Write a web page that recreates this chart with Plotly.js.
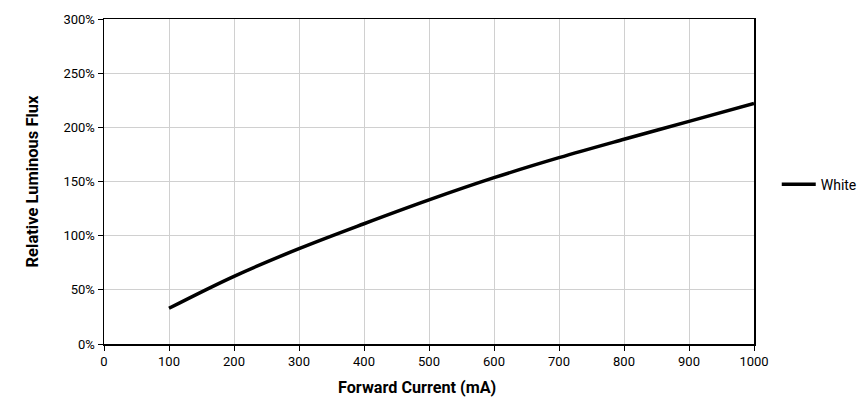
<!DOCTYPE html>
<html><head><meta charset="utf-8">
<script src="https://cdn.plot.ly/plotly-3.0.1.min.js"></script>
<style>body{margin:0}#c{width:866px;height:418px}</style>
</head><body><div id="c"></div>
<script>
const current = [100, 200, 300, 400, 500, 600, 700, 800, 900, 1000];
const fluxWhite = [0.33, 0.625, 0.88, 1.11, 1.33, 1.535, 1.72, 1.89, 2.055, 2.22];
const xTicks = [0,100,200,300,400,500,600,700,800,900,1000];
const yTicks = [0,0.5,1,1.5,2,2.5,3];
const xTitle = 'Forward Current (mA)';
const yTitle = 'Relative Luminous Flux';

const trace = {x: current, y: fluxWhite, mode: 'lines', name: 'White', line: {color: '#000', width: 3.5, shape: 'spline'}};
const layout = {
  width: 866, height: 418,
  margin: {l: 104, r: 112, t: 19, b: 74, autoexpand: false},
  font: {family: 'Roboto, sans-serif', size: 13, color: '#000'},
  paper_bgcolor: '#fff', plot_bgcolor: '#fff',
  showlegend: true,
  legend: {x: 1.035, y: 0.49, xanchor: 'left', yanchor: 'middle', font: {size: 14}, itemwidth: 34, bgcolor: 'rgba(0,0,0,0)'},
  xaxis: {range: [0, 1000], tickvals: xTicks, ticks: 'outside', ticklen: 5, tickcolor: '#000',
    showline: true, linecolor: '#000', linewidth: 1.5, mirror: true, showgrid: true, gridcolor: '#d0d0d0', gridwidth: 1,
    zeroline: false, fixedrange: true, automargin: false},
  yaxis: {range: [0, 3], tickvals: yTicks, tickformat: '.0%', ticks: 'outside', ticklen: 5, tickcolor: '#000',
    showline: true, linecolor: '#000', linewidth: 1.5, mirror: true, showgrid: true, gridcolor: '#d0d0d0', gridwidth: 1,
    zeroline: false, fixedrange: true, automargin: false,
    title: {text: yTitle, font: {size: 16.5, family: 'Roboto, sans-serif', weight: 'bold'}, standoff: 20}},
  annotations: [{text: xTitle, xref: 'paper', yref: 'paper', x: 0.4815, y: -0.1345, xanchor: 'center', yanchor: 'middle',
    showarrow: false, font: {size: 16.2, family: 'Roboto, sans-serif', weight: 'bold', color: '#000'}}]
};
Plotly.newPlot('c', [trace], layout, {displayModeBar: false, staticPlot: true});
</script></body></html>
